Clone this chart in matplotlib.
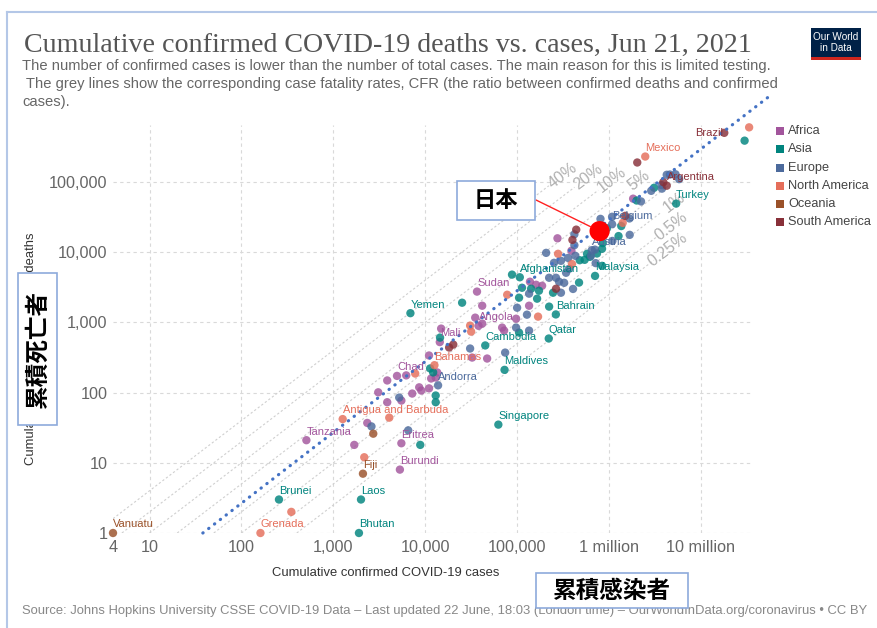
import math
import matplotlib
matplotlib.use("Agg")
import matplotlib.pyplot as plt
from matplotlib.patches import Rectangle
from matplotlib.lines import Line2D
from matplotlib.ticker import NullLocator

# ---- data -------------------------------------------------------------
regions = ["Africa", "Asia", "Europe", "North America", "Oceania", "South America"]
region_colors = {
    "Africa": "#a2559c",
    "Asia": "#00847e",
    "Europe": "#4c6a9c",
    "North America": "#e56e5a",
    "Oceania": "#9a5129",
    "South America": "#883039",
}

# labelled countries
names = ["Brazil", "Mexico", "Argentina", "Turkey", "Belgium", "Austria", "Malaysia",
         "Afghanistan", "Sudan", "Yemen", "Bahrain", "Angola", "Qatar", "Cambodia",
         "Mali", "Bahamas", "Maldives", "Chad", "Andorra", "Singapore",
         "Antigua and Barbuda", "Tanzania", "Eritrea", "Burundi", "Fiji", "Brunei",
         "Laos", "Grenada", "Bhutan", "Vanuatu"]
name_cases = [17970000, 2480000, 4250000, 5380000, 1080000, 650000, 705000,
              107000, 36600, 6900, 264000, 38000, 221000, 45000,
              14400, 12600, 73000, 4930, 13800, 62500,
              1264, 509, 5500, 5300, 2100, 256,
              2000, 161, 1900, 4]
name_deaths = [502600, 231000, 88700, 49300, 25100, 10700, 4600,
               4400, 2750, 1355, 1300, 895, 590, 470,
               525, 246, 211, 173, 127, 35,
               42, 21, 19, 8, 7, 3,
               3, 1, 1, 1]
name_region = ["South America", "North America", "South America", "Asia", "Europe",
               "Europe", "Asia", "Asia", "Africa", "Asia", "Asia", "Africa", "Asia",
               "Asia", "Africa", "North America", "Asia", "Africa", "Europe", "Asia",
               "North America", "Africa", "Africa", "Africa", "Oceania", "Asia",
               "Asia", "North America", "Asia", "Oceania"]

# everything else
other_cases = [
    33500000, 29900000, 2030000, 4250000, 4600000, 5300000, 5800000, 3900000,
    3770000, 3730000, 2880000, 3100000, 2230000, 1830000, 2000000, 1670000,
    808000, 1500000, 1080000, 1410000, 1360000, 948000, 1680000, 1270000,
    1090000, 870000, 855000, 440000, 400000, 275000, 420000, 420000,
    703000, 716000, 840000, 740000, 620000, 543000, 480000,
    390000, 430000, 207000, 279000, 300000, 396000, 367000, 341000,
    472000, 406000, 577000, 840000, 637000,
    88000, 138000, 161000, 187000, 223000, 265000, 286000, 325000,
    265000, 246000, 300000, 142000, 173000, 113000, 78000, 105000,
    135000, 165000, 135000, 100000, 128000, 169000, 223000,
    41700, 35000, 25200, 41700, 30800, 31600, 68700, 97500,
    97500, 135000, 105000, 74100, 30800, 32400, 47200, 72200,
    20200, 18200, 11000, 11300, 12200, 13500, 3860, 6210,
    7780, 11600, 13000, 11000, 8600, 7220, 3080, 3860,
    5210, 5500, 9060, 13000, 13000, 4060, 2340, 2600,
    2720, 1690, 8830, 6530, 2170, 349, 14900, 14500,
    358000, 252000,
]
other_deaths = [
    602000, 389000, 190000, 127000, 128000, 129000, 110000, 99800,
    80600, 90600, 75000, 83000, 53000, 58000, 54600, 30300,
    29900, 33000, 32000, 26200, 23600, 22000, 17700, 17000,
    14500, 17100, 13500, 21000, 15000, 15800, 18000, 12600,
    10900, 7000, 6400, 9600, 8600, 7800, 7700,
    10500, 8900, 9800, 9500, 7550, 6800, 5800, 5100,
    3700, 3000, 9500, 11200, 8900,
    4800, 3800, 3440, 3330, 4330, 4330, 3800, 3670,
    3020, 2650, 2650, 3020, 2830, 3120, 2480, 2250,
    2570, 2180, 1730, 1620, 1290, 1210, 1680,
    1730, 1170, 1910, 962, 901, 740, 844, 844,
    1130, 765, 716, 372, 425, 316, 306, 765,
    484, 439, 338, 221, 194, 194, 149, 176,
    187, 159, 164, 115, 119, 97, 101, 73,
    85, 77, 107, 91, 73, 44, 37, 33,
    26, 18, 18, 29, 12, 2, 817, 608,
    8300, 7070,
]
other_region = [
    "North America", "Asia", "South America", "Europe", "Europe", "Europe", "Europe", "South America",
    "Europe", "Europe", "Europe", "Asia", "Europe", "Africa", "Asia", "Europe",
    "Europe", "South America", "Europe", "North America", "Asia", "Asia", "Europe", "Asia",
    "Europe", "Europe", "Asia", "South America", "South America", "Africa", "Europe", "Europe",
    "Europe", "Europe", "Asia", "Asia", "Asia", "Asia", "Asia",
    "Africa", "Europe", "Europe", "North America", "Europe", "North America", "Europe", "Europe",
    "Asia", "Europe", "Asia", "Asia", "Europe",
    "Asia", "Africa", "Africa", "Africa", "Europe", "Europe", "Europe", "Europe",
    "South America", "Asia", "Europe", "Asia", "Asia", "Asia", "North America", "Asia",
    "Europe", "Asia", "Africa", "Europe", "Europe", "North America", "Asia",
    "Africa", "Africa", "Asia", "Africa", "North America", "North America", "Africa", "Europe",
    "Africa", "Europe", "Asia", "Europe", "Europe", "Africa", "Africa", "Africa",
    "South America", "South America", "Africa", "Asia", "Asia", "Africa", "Africa", "Africa",
    "North America", "Africa", "Africa", "Africa", "Africa", "Africa", "Africa", "Africa",
    "Europe", "Africa", "Africa", "Asia", "Asia", "North America", "Africa", "Europe",
    "Oceania", "Africa", "Asia", "Europe", "North America", "North America", "Africa", "Asia",
    "Europe", "Europe",
]

# case fatality reference lines
cfr_values = [0.4, 0.2, 0.1, 0.05, 0.02, 0.01, 0.005, 0.0025]
cfr_labels = ["40%", "20%", "10%", "5%", "", "1%", "0.5%", "0.25%"]
cfr_label_cases = [3.1e5, 5.9e5, 1.07e6, 2.1e6, 5.5e6, 5.1e6, 4.7e6, 4.3e6]

# hand-drawn trend line and the highlighted country
trend_cases = [38, 5.5e7]
trend_deaths = [1, 1.65e6]
japan_cases = 7.9e5
japan_deaths = 2.0e4

x_ticks = [4, 10, 100, 1e3, 1e4, 1e5, 1e6, 1e7]
x_tick_labels = ["4", "10", "100", "1,000", "10,000", "100,000", "1 million", "10 million"]
y_ticks = [1, 10, 100, 1e3, 1e4, 1e5]
y_tick_labels = ["1", "10", "100", "1,000", "10,000", "100,000"]

# ---- layout helpers (pixel -> figure fraction) -------------------------
W, H = 878, 628


def fx(x):
    return x / W


def fy(y):
    return 1 - y / H


plt.rcParams["font.family"] = ["Liberation Sans", "DejaVu Sans"]
fig = plt.figure(figsize=(W / 100, H / 100), dpi=100)
fig.patch.set_facecolor("white")

ax = fig.add_axes([fx(113), fy(533), (752 - 113) / W, (533 - 125) / H])
ax.set_xscale("log")
ax.set_yscale("log")
ax.set_xlim(4, 3.6e7)
ax.set_ylim(1, 6.5e5)
for s in ax.spines.values():
    s.set_visible(False)

ax.set_xticks(x_ticks)
ax.set_xticklabels(x_tick_labels)
ax.set_yticks(y_ticks)
ax.set_yticklabels(y_tick_labels)
ax.xaxis.set_minor_locator(NullLocator())
ax.yaxis.set_minor_locator(NullLocator())
ax.tick_params(length=0, labelsize=11.7, labelcolor="#666666")
ax.tick_params(axis="x", pad=5)
ax.tick_params(axis="y", pad=4)

# dashed grid
grid_style = dict(color="#d9d9d9", lw=0.8, linestyle=(0, (3, 3)), zorder=0)
for t in x_ticks[1:]:
    ax.axvline(t, **grid_style)
for t in y_ticks:
    ax.axhline(t, **grid_style)

# CFR lines with labels at their upper end
p1 = ax.transData.transform((1e3, 1e1))
p2 = ax.transData.transform((1e4, 1e2))
cfr_angle = math.degrees(math.atan2(p2[1] - p1[1], p2[0] - p1[0]))
for cfr, lab, lc in zip(cfr_values, cfr_labels, cfr_label_cases):
    start = max(4, 1 / cfr)
    end = lc / 1.4 if lab else lc
    ax.plot([start, end], [start * cfr, end * cfr], color="#cfcfcf", lw=0.8,
            linestyle=(0, (2, 2)), zorder=1)
    if lab:
        ax.text(lc, lc * cfr, lab, rotation=cfr_angle, rotation_mode="anchor",
                ha="center", va="center", fontsize=11.5, color="#b0b0b0", zorder=2)

# countries
for reg in regions:
    xs = [c for c, r in zip(other_cases, other_region) if r == reg]
    ys = [d for d, r in zip(other_deaths, other_region) if r == reg]
    xs += [c for c, r in zip(name_cases, name_region) if r == reg]
    ys += [d for d, r in zip(name_deaths, name_region) if r == reg]
    ax.scatter(xs, ys, s=36, color=region_colors[reg], alpha=0.82,
               edgecolors="none", clip_on=False, zorder=3)

label_offsets = {"Brazil": (-21, 0)}
for n, c, d, r in zip(names, name_cases, name_deaths, name_region):
    dx, dy = label_offsets.get(n, (0, 6.2))
    ax.annotate(n, (c, d), xytext=(dx, dy), textcoords="offset points",
                ha="left", va="center", fontsize=8, color=region_colors[r], zorder=5)

# trend line
ax.plot(trend_cases, trend_deaths, color="#4472c4", lw=2.3, linestyle=(0, (0.1, 2.2)),
        dash_capstyle="round", clip_on=False, zorder=4)

# highlighted point
ax.scatter([japan_cases], [japan_deaths], s=210, color="#ff0000", edgecolors="none",
           zorder=6, clip_on=False)
ax.annotate("", xy=(japan_cases, japan_deaths), xytext=(fx(536), fy(200)),
            textcoords="figure fraction",
            arrowprops=dict(arrowstyle="-", color="#ff2020", lw=1, shrinkA=0, shrinkB=7),
            zorder=6)

# legend
for i, reg in enumerate(regions):
    yc = 131 + 18.3 * i
    fig.add_artist(Rectangle((fx(776), fy(yc + 4)), 8 / W, 8 / H, transform=fig.transFigure,
                             fc=region_colors[reg], ec="none"))
    fig.text(fx(788), fy(yc), reg, fontsize=9.2, color="#444444", va="center", ha="left")

# titles
fig.text(fx(24), fy(52), "Cumulative confirmed COVID-19 deaths vs. cases, Jun 21, 2021",
         family="Liberation Serif", fontsize=20.2, color="#555555", va="baseline")
subtitle = [
    "The number of confirmed cases is lower than the number of total cases. The main reason for this is limited testing.",
    " The grey lines show the corresponding case fatality rates, CFR (the ratio between confirmed deaths and confirmed",
    "cases).",
]
for i, line in enumerate(subtitle):
    fig.text(fx(22), fy(66 + 18 * i), line, fontsize=10.6, color="#666666", va="center")

fig.text(fx(386), fy(573), "Cumulative confirmed COVID-19 cases", fontsize=9.4,
         color="#333333", ha="center", va="center")
fig.text(fx(31), fy(349), "Cumulative confirmed COVID-19 deaths", fontsize=9.4,
         color="#333333", ha="center", va="center", rotation=90)
fig.text(fx(22), fy(611),
         "Source: Johns Hopkins University CSSE COVID-19 Data \u2013 Last updated 22 June, 18:03 "
         "(London time) \u2013 OurWorldInData.org/coronavirus \u2022 CC BY",
         fontsize=9.4, color="#888888", va="center")

# logo
fig.add_artist(Rectangle((fx(811), fy(60)), 50 / W, 32 / H, transform=fig.transFigure,
                         fc="#002147", ec="none"))
fig.add_artist(Rectangle((fx(811), fy(60)), 50 / W, 3 / H, transform=fig.transFigure,
                         fc="#ce261e", ec="none"))
fig.text(fx(836), fy(37), "Our World", fontsize=7.2, color="white", ha="center", va="center")
fig.text(fx(836), fy(48), "in Data", fontsize=7.2, color="white", ha="center", va="center")

# frame
frame_col = "#b4c7e7"
fig.add_artist(Line2D([fx(7), 1], [fy(12), fy(12)], transform=fig.transFigure,
                      color=frame_col, lw=1.5))
fig.add_artist(Line2D([fx(7), fx(7)], [fy(12), 0], transform=fig.transFigure,
                      color=frame_col, lw=1.5))

# Japanese call-out boxes
jp = ["Noto Sans CJK JP", "DejaVu Sans"]
box_ec = "#8eaadb"
boxes = [((457, 181, 535, 220), "日本", 0, 16),
         ((18, 273, 57, 425), "累積死亡者", 90, 17),
         ((536, 573, 688, 608), "累積感染者", 0, 17)]
for (x0, y0, x1, y1), txt, rot, size in boxes:
    fig.add_artist(Rectangle((fx(x0), fy(y1)), (x1 - x0) / W, (y1 - y0) / H,
                             transform=fig.transFigure, fc="white", ec=box_ec, lw=1.2,
                             zorder=10))
    fig.text(fx((x0 + x1) / 2), fy((y0 + y1) / 2), txt, family=jp, fontsize=size,
             fontweight="bold", rotation=rot, ha="center", va="center", color="black",
             zorder=11)

fig.savefig("out.png", dpi=100)
